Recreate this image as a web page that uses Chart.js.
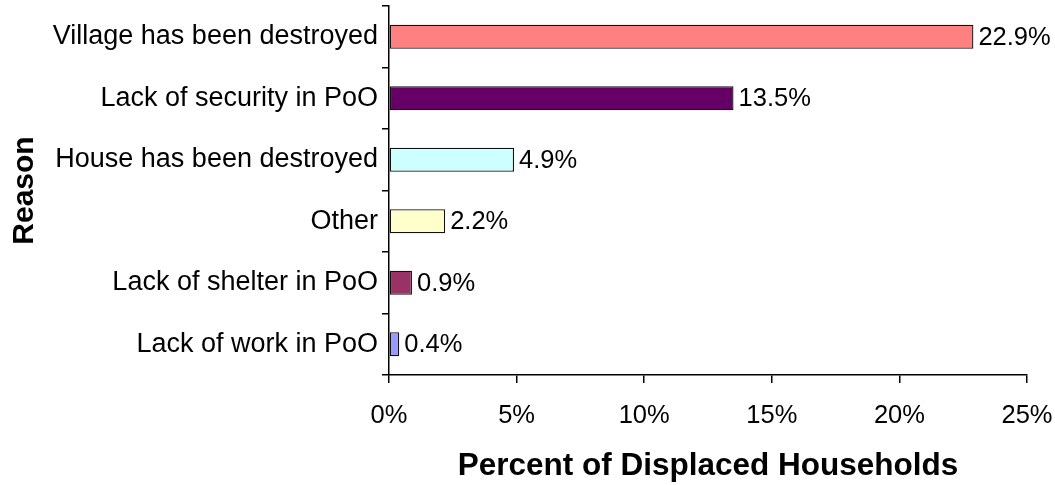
<!DOCTYPE html>
<html>
<head>
<meta charset="utf-8">
<script src="https://cdn.jsdelivr.net/npm/chart.js@4/dist/chart.umd.min.js"></script>
<style>
html,body{margin:0;padding:0;background:#fff;}
#wrap{width:1055px;height:485px;}
</style>
</head>
<body>
<div id="wrap"><canvas id="c" width="1055" height="485"></canvas></div>
<script>
const categories = ["Village has been destroyed","Lack of security in PoO","House has been destroyed","Other","Lack of shelter in PoO","Lack of work in PoO"];
const values = [22.9, 13.5, 4.9, 2.2, 0.9, 0.4];
const barColors = ["#FF8080","#660066","#CCFFFF","#FFFFCC","#993366","#9999FF"];
const xTicks = [0, 5, 10, 15, 20, 25];
const xTitle = "Percent of Displaced Households";
const yTitle = "Reason";

const FONT = "'Liberation Sans', Arial, sans-serif";

const valueLabels = {
  id: 'valueLabels',
  afterDatasetsDraw(chart) {
    const ctx = chart.ctx;
    const meta = chart.getDatasetMeta(0);
    ctx.save();
    ctx.font = "25.5px " + FONT;
    ctx.fillStyle = "#000";
    ctx.textAlign = "left";
    ctx.textBaseline = "middle";
    meta.data.forEach((bar, i) => {
      ctx.fillText(values[i].toFixed(1) + "%", bar.x + 5, bar.y + 1);
    });
    ctx.restore();
  }
};

function noPad(scale) {
  scale.paddingTop = 0; scale.paddingBottom = 0;
  scale.paddingLeft = 0; scale.paddingRight = 0;
}

new Chart(document.getElementById('c'), {
  type: 'bar',
  data: {
    labels: categories,
    datasets: [{
      data: values,
      backgroundColor: barColors,
      borderColor: "#111",
      borderWidth: 1.3,
      borderSkipped: false,
      barPercentage: 0.39,
      categoryPercentage: 1
    }]
  },
  options: {
    indexAxis: 'y',
    responsive: false,
    animation: false,
    devicePixelRatio: 1,
    layout: { padding: { top: 6, right: 28, bottom: 0, left: 0 } },
    plugins: { legend: { display: false }, tooltip: { enabled: false } },
    scales: {
      x: {
        min: 0, max: 25,
        afterBuildTicks(scale) { scale.ticks = xTicks.map(v => ({ value: v })); },
        afterFit(scale) { scale.height = 110; noPad(scale); },
        grid: { drawOnChartArea: false, drawTicks: true, tickLength: 8, color: "#000", lineWidth: 1.5 },
        border: { display: true, color: "#000", width: 1.5 },
        ticks: {
          font: { family: FONT, size: 25.5 },
          color: "#000",
          padding: 18,
          maxRotation: 0,
          callback: v => v + "%"
        },
        title: {
          display: true,
          text: xTitle,
          font: { family: FONT, size: 31.5, weight: 'bold' },
          color: "#000",
          padding: { top: 0, bottom: 0 }
        }
      },
      y: {
        afterFit(scale) { scale.width = 389; noPad(scale); },
        grid: { offset: true, drawOnChartArea: false, drawTicks: true, tickLength: 7, color: "#000", lineWidth: 1.5 },
        border: { display: true, color: "#000", width: 1.5 },
        ticks: {
          font: { family: FONT, size: 27 },
          color: "#000",
          padding: 4
        },
        title: {
          display: true,
          text: yTitle,
          font: { family: FONT, size: 30, weight: 'bold' },
          color: "#000",
          padding: { top: 7, bottom: 0 }
        }
      }
    }
  },
  plugins: [valueLabels]
});
</script>
</body>
</html>
